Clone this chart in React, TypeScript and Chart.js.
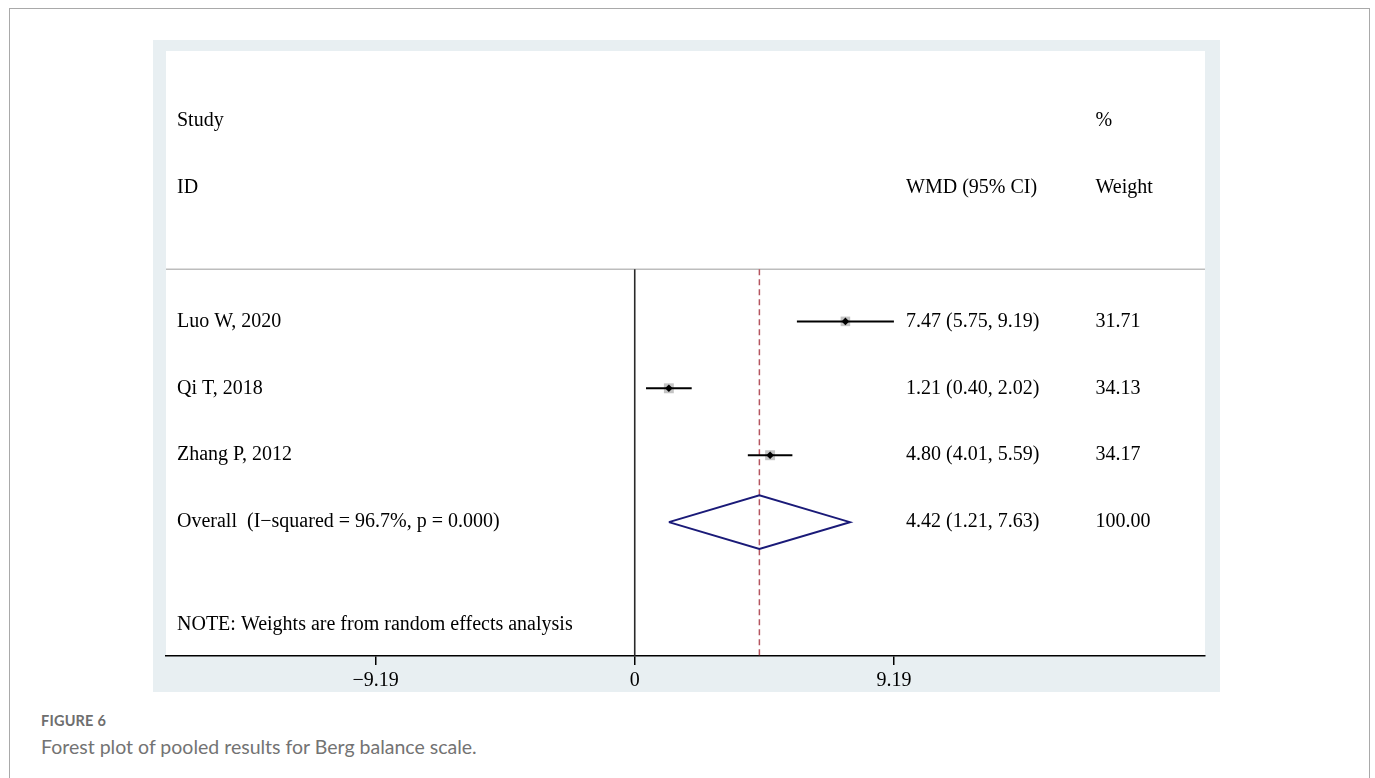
import { useEffect, useRef } from 'react';
import { Chart, registerables } from 'chart.js';

Chart.register(...registerables);

// Individual studies
const studyLabels = ['Luo W, 2020', 'Qi T, 2018', 'Zhang P, 2012'];
const studyEstimates = [7.47, 1.21, 4.8];
const studyLower = [5.75, 0.4, 4.01];
const studyUpper = [9.19, 2.02, 5.59];
const studyWeights = [31.71, 34.13, 34.17];

// Random-effects pooled result
const pooledLabel = 'Overall  (I\u2212squared = 96.7%, p = 0.000)';
const pooledEstimate = [4.42];
const pooledLower = [1.21];
const pooledUpper = [7.63];
const pooledWeight = [100.0];

// Axis ticks and header text
const axisTicks = [-9.19, 0, 9.19];
const headerStudy = ['Study', 'ID'];
const headerEffect = ['', 'WMD (95% CI)'];
const headerWeight = ['%', 'Weight'];
const noteText = 'NOTE: Weights are from random effects analysis';

// Plot geometry in data units
const X_MIN = -16.62;
const X_MAX = 20.22;
const Y_MIN = -0.04;
const Y_MAX = 9.0;
const ROW_HEADER = [1, 2];
const ROW_RULE = 3.22;
const ROW_STUDIES = [4, 5, 6];
const ROW_POOLED = 7;
const ROW_NOTE = 8.54;
const COL_STUDY = -16.23;
const COL_EFFECT = 9.62;
const COL_WEIGHT = 16.34;
const DIAMOND_HALF = 0.4;

const SERIF = '"Liberation Serif", "Times New Roman", serif';
const TEXT_SIZE = 20;

const fmt = (v: number) => v.toFixed(2);
const ciText = (e: number, l: number, u: number) => `${fmt(e)} (${fmt(l)}, ${fmt(u)})`;

const plotBackground = {
  id: 'plotBackground',
  beforeDraw(chart: any) {
    const { ctx, chartArea } = chart;
    ctx.save();
    ctx.fillStyle = '#ffffff';
    ctx.fillRect(chartArea.left, chartArea.top, chartArea.right - chartArea.left, chartArea.bottom - chartArea.top);
    ctx.restore();
  },
};

const forestText = {
  id: 'forestText',
  afterDatasetsDraw(chart: any) {
    const { ctx } = chart;
    const xs = chart.scales.x;
    const ys = chart.scales.y;
    const put = (text: string, xv: number, yv: number) => {
      if (!text) return;
      ctx.fillText(text, xs.getPixelForValue(xv), ys.getPixelForValue(yv));
    };
    ctx.save();
    ctx.font = `${TEXT_SIZE}px ${SERIF}`;
    ctx.fillStyle = '#000000';
    ctx.textAlign = 'left';
    ctx.textBaseline = 'middle';
    headerStudy.forEach((t, i) => put(t, COL_STUDY, ROW_HEADER[i]));
    headerEffect.forEach((t, i) => put(t, COL_EFFECT, ROW_HEADER[i]));
    headerWeight.forEach((t, i) => put(t, COL_WEIGHT, ROW_HEADER[i]));
    studyLabels.forEach((t, i) => {
      put(t, COL_STUDY, ROW_STUDIES[i]);
      put(ciText(studyEstimates[i], studyLower[i], studyUpper[i]), COL_EFFECT, ROW_STUDIES[i]);
      put(fmt(studyWeights[i]), COL_WEIGHT, ROW_STUDIES[i]);
    });
    put(pooledLabel, COL_STUDY, ROW_POOLED);
    put(ciText(pooledEstimate[0], pooledLower[0], pooledUpper[0]), COL_EFFECT, ROW_POOLED);
    put(fmt(pooledWeight[0]), COL_WEIGHT, ROW_POOLED);
    put(noteText, COL_STUDY, ROW_NOTE);
    ctx.restore();
  },
};

export default function App() {
  const canvasRef = useRef<HTMLCanvasElement | null>(null);

  useEffect(() => {
    const canvas = canvasRef.current;
    if (!canvas) return;

    const lineStyle = { pointRadius: 0, fill: false, showLine: true, tension: 0 };

    const ciLines = studyLabels.map((label, i) => ({
      label: `${label} CI`,
      data: [
        { x: studyLower[i], y: ROW_STUDIES[i] },
        { x: studyUpper[i], y: ROW_STUDIES[i] },
      ],
      borderColor: '#000000',
      borderWidth: 2,
      order: 4,
      ...lineStyle,
    }));

    const datasets: any[] = [
      {
        label: 'rule',
        data: [
          { x: X_MIN, y: ROW_RULE },
          { x: X_MAX, y: ROW_RULE },
        ],
        borderColor: '#bdbdbd',
        borderWidth: 1.5,
        order: 9,
        ...lineStyle,
      },
      {
        label: 'no effect',
        data: [
          { x: 0, y: ROW_RULE },
          { x: 0, y: Y_MAX },
        ],
        borderColor: '#2a2a2a',
        borderWidth: 1.6,
        order: 8,
        ...lineStyle,
      },
      {
        label: 'pooled effect',
        data: [
          { x: pooledEstimate[0], y: ROW_RULE },
          { x: pooledEstimate[0], y: Y_MAX },
        ],
        borderColor: '#b5555f',
        borderWidth: 1.5,
        borderDash: [6, 4],
        order: 7,
        ...lineStyle,
      },
      {
        label: 'weights',
        data: studyEstimates.map((x, i) => ({ x, y: ROW_STUDIES[i] })),
        pointStyle: 'rect',
        pointRadius: studyWeights.map((w) => 7 * Math.sqrt(w / 34)),
        pointBackgroundColor: '#c4c4c4',
        pointBorderWidth: 0,
        showLine: false,
        order: 5,
      },
      ...ciLines,
      {
        label: 'estimates',
        data: studyEstimates.map((x, i) => ({ x, y: ROW_STUDIES[i] })),
        pointStyle: 'rectRot',
        pointRadius: 3.8,
        pointBackgroundColor: '#000000',
        pointBorderColor: '#000000',
        pointBorderWidth: 0,
        showLine: false,
        order: 1,
      },
      {
        label: 'overall',
        data: [
          { x: pooledLower[0], y: ROW_POOLED },
          { x: pooledEstimate[0], y: ROW_POOLED - DIAMOND_HALF },
          { x: pooledUpper[0], y: ROW_POOLED },
          { x: pooledEstimate[0], y: ROW_POOLED + DIAMOND_HALF },
          { x: pooledLower[0], y: ROW_POOLED },
        ],
        borderColor: '#1a1a78',
        borderWidth: 2,
        borderJoinStyle: 'miter',
        order: 2,
        ...lineStyle,
      },
    ];

    const chart = new Chart(canvas, {
      type: 'scatter',
      data: { datasets },
      options: {
        responsive: false,
        animation: false,
        devicePixelRatio: 1,
        layout: { padding: { left: 13, right: 15, top: 11, bottom: -5 } },
        plugins: {
          legend: { display: false },
          tooltip: { enabled: false },
        },
        scales: {
          x: {
            type: 'linear',
            min: X_MIN,
            max: X_MAX,
            afterBuildTicks: (axis: any) => {
              axis.ticks = axisTicks.map((value) => ({ value }));
            },
            ticks: {
              autoSkip: false,
              maxRotation: 0,
              color: '#000000',
              padding: 4,
              font: { family: SERIF, size: TEXT_SIZE },
              callback: (v: any) => {
                const n = Number(v);
                if (n === 0) return '0';
                return n < 0 ? `\u2212${fmt(Math.abs(n))}` : fmt(n);
              },
            },
            grid: {
              drawOnChartArea: false,
              drawTicks: true,
              tickLength: 9,
              color: '#000000',
              lineWidth: 1.5,
            },
            border: { display: true, color: '#000000', width: 1.5 },
          },
          y: {
            type: 'linear',
            min: Y_MIN,
            max: Y_MAX,
            reverse: true,
            display: false,
          },
        },
      },
      plugins: [plotBackground, forestText],
    });

    return () => chart.destroy();
  }, []);

  return (
    <div
      style={{
        position: 'fixed',
        left: 0,
        top: 0,
        width: 1375,
        height: 778,
        background: '#ffffff',
        overflow: 'hidden',
      }}
    >
      <div
        style={{
          position: 'absolute',
          left: 9,
          top: 8,
          width: 1361,
          height: 820,
          border: '1px solid #a9a9a9',
          boxSizing: 'border-box',
        }}
      />
      <div
        style={{
          position: 'absolute',
          left: 153,
          top: 40,
          width: 1067,
          height: 652,
          background: '#e8eff2',
        }}
      >
        <canvas ref={canvasRef} width={1067} height={652} style={{ display: 'block' }} />
      </div>
      <div
        style={{
          position: 'absolute',
          left: 41,
          top: 711,
          fontFamily: 'Lato, "Open Sans", sans-serif',
          fontWeight: 700,
          fontSize: 14.5,
          lineHeight: '20px',
          color: '#6e6e6e',
          letterSpacing: 0.2,
        }}
      >
        FIGURE 6
      </div>
      <div
        style={{
          position: 'absolute',
          left: 41,
          top: 735,
          fontFamily: 'Lato, "Open Sans", sans-serif',
          fontSize: 19.5,
          lineHeight: '24px',
          color: '#737373',
        }}
      >
        Forest plot of pooled results for Berg balance scale.
      </div>
    </div>
  );
}
